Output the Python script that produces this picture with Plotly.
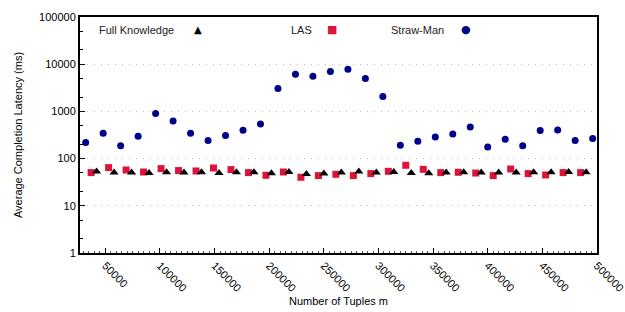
import plotly.graph_objects as go

# ---- data ----
straw_x = [32000 + 16000 * i for i in range(30)]
straw_y = [218, 344, 188, 297, 898, 626, 344, 241, 307, 398, 541, 3040, 6110, 5540, 6970,
           7800, 4950, 2060, 191, 233, 287, 332, 467, 176, 256, 188, 392, 403, 241, 265]

las_x = [37000 + 16000 * i for i in range(29)]
las_y = [50.5, 64.5, 57.4, 52, 61.4, 55.7, 54.6, 63.2, 58.5, 50.5, 44.3, 52, 40.2, 43.6, 46.5,
         43.6, 48.1, 53.8, 72.1, 59.3, 50.5, 51.3, 49.5, 43.6, 60.2, 48.1, 45, 50.5, 50.5]

fk_x = [42000 + 16000 * i for i in range(29)]
fk_y = [53.0, 50.5, 50.5, 49.7, 51.3, 50.5, 51.3, 49.7, 51.3, 51.3, 48.9, 52.1, 47.3, 48.1, 50.5,
        53.0, 50.5, 52.1, 49.7, 48.9, 50.5, 51.3, 50.5, 50.5, 50.5, 51.3, 51.3, 52.1, 51.3]

x_tickvals = [50000, 100000, 150000, 200000, 250000, 300000, 350000, 400000, 450000, 500000]
x_ticktext = ["50000", "100000", "150000", "200000", "250000", "300000", "350000", "400000", "450000", "500000"]
y_tickvals = [1, 10, 100, 1000, 10000, 100000]
y_ticktext = ["1", "10", "100", "1000", "10000", "100000"]

series_names = ["Full Knowledge", "LAS", "Straw-Man"]

FONT = "Liberation Sans, Arial, sans-serif"

fig = go.Figure()
fig.add_trace(go.Scatter(x=straw_x, y=straw_y, mode="markers", name=series_names[2],
                         marker=dict(symbol="circle", size=7, color="#00008b")))
fig.add_trace(go.Scatter(x=las_x, y=las_y, mode="markers", name=series_names[1],
                         marker=dict(symbol="square", size=7, color="#dc143c")))
fig.add_trace(go.Scatter(x=fk_x, y=fk_y, mode="markers", name=series_names[0],
                         marker=dict(symbol="triangle-up", size=8, color="black")))

L, R, T, B = 80, 28, 17, 59
pw = 625 - L - R
ph = 312 - T - B


def px(xp):
    return (xp - L) / pw


def py(yp):
    return (312 - B - yp) / ph


legend_items = [
    (series_names[0], 97, 198, "\u25B2", "black", 10),
    (series_names[1], 289, 332, "\u25A0", "#dc143c", 11),
    (series_names[2], 389, 466, "\u25CF", "#00008b", 11),
]
annotations = []
for name, tx, sx, glyph, col, gs in legend_items:
    annotations.append(dict(x=px(tx), y=py(30), xref="paper", yref="paper", text=name,
                            showarrow=False, xanchor="left", yanchor="middle",
                            font=dict(family=FONT, size=11, color="#222")))
    annotations.append(dict(x=px(sx), y=py(30), xref="paper", yref="paper", text=glyph,
                            showarrow=False, xanchor="center", yanchor="middle",
                            font=dict(family="DejaVu Sans", size=gs, color=col)))

fig.update_layout(
    width=625, height=312,
    margin=dict(l=L, r=R, t=T, b=B, autoexpand=False),
    paper_bgcolor="white", plot_bgcolor="white",
    showlegend=False,
    font=dict(family=FONT, size=11, color="black"),
    annotations=annotations,
    xaxis=dict(
        range=[26800, 500001], tickvals=x_tickvals, ticktext=x_ticktext, tickangle=45,
        ticks="inside", ticklen=5, tickwidth=1, tickcolor="black",
        showline=True, linecolor="black", linewidth=2, mirror=True,
        showgrid=False, zeroline=False, automargin=False, ticklabeloverflow="allow",
        minor=dict(tick0=0, dtick=5000, ticks="inside", ticklen=2, tickcolor="#555", showgrid=False),
        title=dict(text="Number of Tuples m", font=dict(size=11), standoff=4),
        tickfont=dict(size=11),
    ),
    yaxis=dict(
        type="log", range=[0, 5], tickvals=y_tickvals, ticktext=y_ticktext,
        ticks="inside", ticklen=5, tickwidth=1, tickcolor="black",
        showline=True, linecolor="black", linewidth=2, mirror=True,
        showgrid=True, gridcolor="#bbbbbb", gridwidth=1, griddash="1px,6px",
        zeroline=False, automargin=False,
        minor=dict(dtick="D2", ticks="inside", ticklen=3, tickcolor="black", showgrid=False),
        title=dict(text="Average Completion Latency (ms)", font=dict(size=11), standoff=14),
        tickfont=dict(size=11),
    ),
)

fig.write_html("out.html", config={"displayModeBar": False},
               post_script="document.body.style.margin='0';document.body.style.padding='0';")
